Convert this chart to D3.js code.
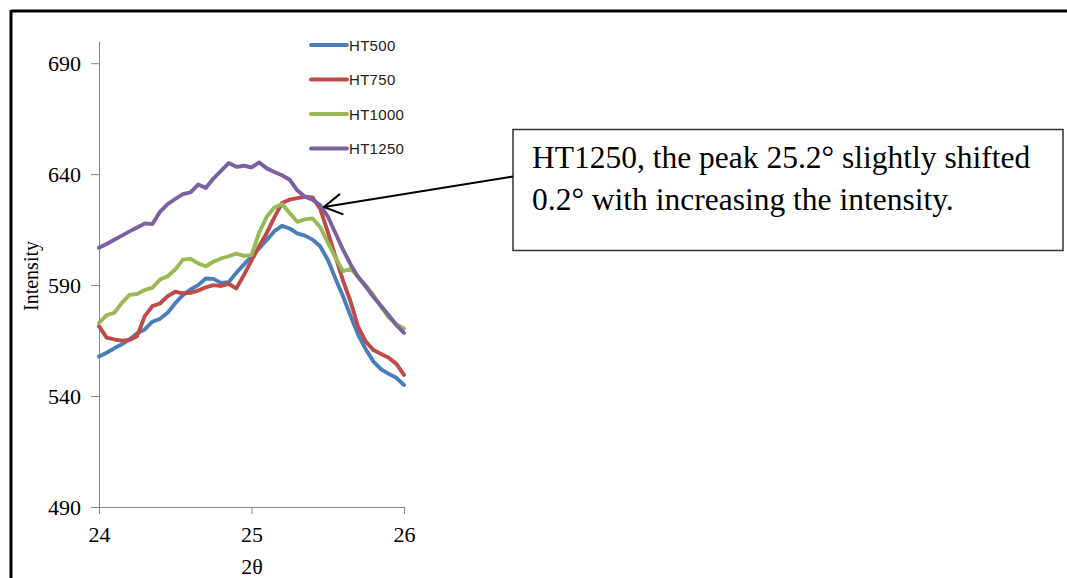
<!DOCTYPE html>
<html>
<head>
<meta charset="utf-8">
<script src="https://cdn.jsdelivr.net/npm/d3@7"></script>
<style>
  html, body { margin: 0; padding: 0; background: #fff; }
  svg { display: block; }
</style>
</head>
<body>
<svg id="chart" width="1067" height="578"></svg>
<script>
// ---- data ----
const angles = [24.00,24.05,24.10,24.15,24.20,24.25,24.30,24.35,24.40,24.45,
                24.50,24.55,24.60,24.65,24.70,24.75,24.80,24.85,24.90,24.95,
                25.00,25.05,25.10,25.15,25.20,25.25,25.30,25.35,25.40,25.45,
                25.50,25.55,25.60,25.65,25.70,25.75,25.80,25.85,25.90,25.95,26.00];

const ht500 = [557.8,559.5,561.5,563.3,565.5,568.3,570.0,573.5,574.8,577.5,
               581.8,585.5,588.0,590.0,593.0,592.8,591.0,591.3,595.5,599.2,
               603.0,606.5,610.3,614.3,616.7,615.5,613.3,612.3,610.5,607.5,
               601.5,593.0,585.0,576.0,567.5,561.0,555.5,552.0,550.0,548.2,545.0];

const ht750 = [571.5,566.3,565.5,565.0,565.3,567.0,576.0,580.5,581.7,585.0,
               587.0,586.3,586.5,587.5,589.0,590.0,589.6,590.6,588.5,594.5,
               601.0,607.5,613.5,620.5,627.0,628.5,629.2,629.8,629.5,624.5,
               614.0,603.0,592.0,582.5,571.0,564.5,560.7,559.0,557.3,554.5,549.5];

const ht1000 = [573.0,576.5,577.5,582.0,585.6,586.0,587.8,588.8,592.5,594.0,
                597.0,601.5,601.8,599.8,598.5,600.5,602.0,603.0,604.2,603.2,
                603.5,613.6,620.8,625.0,626.5,622.5,618.5,619.6,620.0,616.2,
                609.3,602.5,596.3,597.3,593.8,589.8,585.4,580.2,575.5,572.2,570.5];

const ht1250 = [606.8,608.5,610.4,612.3,614.2,616.0,617.8,617.5,623.0,626.5,
                628.8,631.0,631.8,635.3,633.8,638.0,641.5,645.0,643.3,643.8,
                643.0,645.3,642.6,641.0,639.5,637.5,632.7,629.8,628.5,626.0,
                621.0,613.5,606.0,599.3,593.5,589.3,584.6,580.6,576.4,572.0,568.5];

const seriesNames = ["HT500","HT750","HT1000","HT1250"];
const seriesValues = [ht500, ht750, ht1000, ht1250];
const seriesColors = ["#4A7EBB","#BE4B48","#98B954","#7D60A0"];

const yTicks = [490,540,590,640,690];
const xTicks = [24,25,26];

const annotationLines = ["HT1250, the peak 25.2\u00B0 slightly shifted",
                         "0.2\u00B0 with increasing the intensity."];
const annotationTarget = [25.475, 625.2];

// ---- drawing ----
const svg = d3.select("#chart");
const serif = "'Liberation Serif','Times New Roman',serif";
const sans = "'Liberation Sans',Arial,sans-serif";

// outer frame (top and left edges visible)
svg.append("line").attr("x1", 11).attr("x2", 1067).attr("y1", 11).attr("y2", 11)
  .attr("stroke", "#000").attr("stroke-width", 3);
svg.append("line").attr("x1", 11).attr("x2", 11).attr("y1", 10).attr("y2", 578)
  .attr("stroke", "#000").attr("stroke-width", 3);

const x = d3.scaleLinear().domain([24, 26]).range([99, 404]);
const y = d3.scaleLinear().domain([490, 700]).range([507, 41]);

// y axis
const yAxis = svg.append("g").attr("transform", "translate(99,0)")
  .call(d3.axisLeft(y).tickValues(yTicks).tickSize(8).tickPadding(10).tickSizeOuter(0));
yAxis.select(".domain").attr("stroke", "#868686");
yAxis.selectAll(".tick line").attr("stroke", "#868686");
yAxis.selectAll(".tick text").attr("font-family", serif).attr("font-size", 22).attr("fill", "#000");

// x axis
const xAxis = svg.append("g").attr("transform", "translate(0,507)")
  .call(d3.axisBottom(x).tickValues(xTicks).tickSize(7).tickPadding(12).tickSizeOuter(0)
        .tickFormat(d3.format("d")));
xAxis.select(".domain").attr("stroke", "#868686");
xAxis.selectAll(".tick line").attr("stroke", "#868686");
xAxis.selectAll(".tick text").attr("font-family", serif).attr("font-size", 22).attr("fill", "#000");

// axis titles
svg.append("text").attr("x", 252).attr("y", 574).attr("text-anchor", "middle")
  .attr("font-family", serif).attr("font-size", 22).text("2\u03B8");
svg.append("text").attr("transform", "translate(38,276) rotate(-90)").attr("text-anchor", "middle")
  .attr("font-family", serif).attr("font-size", 20).text("Intensity");

// lines
const line = d3.line().x((d, i) => x(angles[i])).y(d => y(d));
seriesValues.forEach((vals, k) => {
  svg.append("path").datum(vals).attr("d", line)
    .attr("fill", "none").attr("stroke", seriesColors[k])
    .attr("stroke-width", 3.9).attr("stroke-linejoin", "round").attr("stroke-linecap", "round");
});

// legend
const legend = svg.append("g");
seriesNames.forEach((name, k) => {
  const cy = 45 + k * 34.5;
  legend.append("line").attr("x1", 311).attr("x2", 347).attr("y1", cy).attr("y2", cy)
    .attr("stroke", seriesColors[k]).attr("stroke-width", 3.9).attr("stroke-linecap", "round");
  legend.append("text").attr("x", 349).attr("y", cy + 5.5)
    .attr("font-family", sans).attr("font-size", 15).attr("fill", "#222")
    .attr("letter-spacing", 0.3).text(name);
});

// annotation box
svg.append("rect").attr("x", 513).attr("y", 129.5).attr("width", 550).attr("height", 121)
  .attr("fill", "#fff").attr("stroke", "#333").attr("stroke-width", 1.5);
annotationLines.forEach((t, i) => {
  svg.append("text").attr("x", 532).attr("y", 168 + i * 42)
    .attr("font-family", serif).attr("font-size", 31.5).attr("fill", "#000").text(t);
});

// arrow
const tipX = x(annotationTarget[0]), tipY = y(annotationTarget[1]);
const sx = 513, sy = 176.5;
svg.append("line").attr("x1", sx).attr("y1", sy).attr("x2", tipX).attr("y2", tipY)
  .attr("stroke", "#000").attr("stroke-width", 2);
const ang = Math.atan2(sy - tipY, sx - tipX);
const armLen = 20, spread = Math.PI / 6;
[ang - spread, ang + spread].forEach(a => {
  svg.append("line").attr("x1", tipX).attr("y1", tipY)
    .attr("x2", tipX + armLen * Math.cos(a)).attr("y2", tipY + armLen * Math.sin(a))
    .attr("stroke", "#000").attr("stroke-width", 2).attr("stroke-linecap", "round");
});
</script>
</body>
</html>
